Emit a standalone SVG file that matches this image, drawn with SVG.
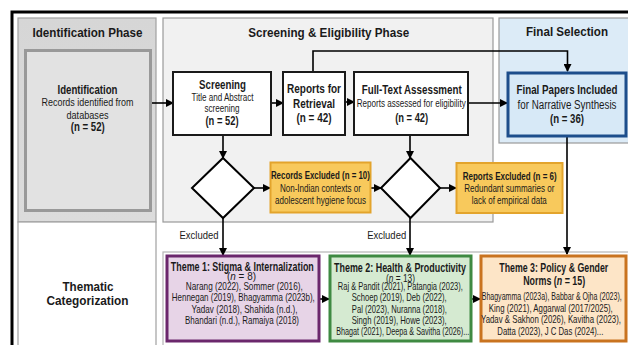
<svg xmlns="http://www.w3.org/2000/svg" width="628" height="345" viewBox="0 0 628 345">
<defs>
<marker id="ah" markerWidth="8" markerHeight="8" refX="7" refY="4" orient="auto" markerUnits="userSpaceOnUse">
<path d="M0,0 L8,4 L0,8 Z" fill="#000"/>
</marker>
<linearGradient id="gId" x1="0" y1="0" x2="0" y2="1">
<stop offset="0" stop-color="#d6d6d6"/><stop offset="1" stop-color="#dcdcdc"/>
</linearGradient>
</defs>
<style>
text{font-family:"Liberation Sans Narrow","Liberation Sans",Arial,sans-serif;fill:#1a1a1a;text-anchor:middle}
.ph{font-size:13.5px;font-weight:bold}
.t{font-size:12.5px;font-weight:bold}
.b{font-size:11px}
.s{font-size:10.5px}
.sb{font-size:10.5px;font-weight:bold}
.n{font-size:12px;font-weight:bold}
.tt{font-size:12px;font-weight:bold}
.c{font-size:10.5px}
.box{fill:#fff;stroke:#1a1a1a;stroke-width:2}
.exc{fill:#f8c95c;stroke:#e3a42c;stroke-width:2}
.dia{fill:#fff;stroke:#000;stroke-width:2}
.ln{fill:none;stroke:#000;stroke-width:1.6}
</style>

<!-- frame and panels -->
<rect x="12" y="12" width="630" height="345" fill="#fff" stroke="#000" stroke-width="3"/>
<g id="panel-identification">
<rect x="18" y="18" width="138" height="204" fill="url(#gId)" stroke="#a0a0a0" stroke-width="1.2"/>
<text class="ph" x="87.5" y="36.5" textLength="110" lengthAdjust="spacingAndGlyphs">Identification Phase</text>
</g>
<g id="panel-thematic">
<rect x="18" y="222" width="138" height="125" fill="#fff" stroke="#a0a0a0" stroke-width="1.2"/>
<text class="ph" x="88" y="290.5" textLength="51" lengthAdjust="spacingAndGlyphs">Thematic</text>
<text class="ph" x="87.5" y="305" textLength="82" lengthAdjust="spacingAndGlyphs">Categorization</text>
</g>
<g id="panel-screening">
<rect x="163" y="18" width="330" height="204" fill="#f1f1f1" stroke="#9a9a9a" stroke-width="1.2"/>
<text class="ph" x="328.7" y="36.5" textLength="161" lengthAdjust="spacingAndGlyphs">Screening &amp; Eligibility Phase</text>
</g>
<g id="panel-final">
<rect x="499" y="18" width="140" height="125" fill="#dcebf7" stroke="#9a9a9a" stroke-width="1.2"/>
<text class="ph" x="567" y="36" textLength="82" lengthAdjust="spacingAndGlyphs">Final Selection</text>
</g>
<g id="panel-themes">
<rect x="163" y="252" width="475" height="95" fill="#fff" stroke="#b5b5b5" stroke-width="1.2"/>
</g>

<!-- connectors -->
<g id="connectors">
<line class="ln" x1="151" y1="103" x2="173" y2="103" marker-end="url(#ah)"/>
<line class="ln" x1="271" y1="103" x2="283" y2="103" marker-end="url(#ah)"/>
<line class="ln" x1="345" y1="102" x2="354" y2="102" marker-end="url(#ah)"/>
<line class="ln" x1="468" y1="103" x2="507" y2="103" marker-end="url(#ah)"/>
<path class="ln" d="M313,72 V51 H567.5 V71" marker-end="url(#ah)"/>
<line class="ln" x1="223" y1="135" x2="223" y2="158" marker-end="url(#ah)"/>
<line class="ln" x1="254" y1="188" x2="270" y2="188" marker-end="url(#ah)"/>
<line class="ln" x1="371" y1="188" x2="381" y2="188" marker-end="url(#ah)"/>
<line class="ln" x1="410" y1="135" x2="410" y2="158" marker-end="url(#ah)"/>
<line class="ln" x1="440" y1="188" x2="456" y2="188" marker-end="url(#ah)"/>
<line class="ln" x1="223" y1="218" x2="223" y2="255" marker-end="url(#ah)"/>
<line class="ln" x1="410" y1="218" x2="410" y2="255" marker-end="url(#ah)"/>
<line class="ln" x1="567" y1="137" x2="567" y2="254" marker-end="url(#ah)"/>
<line class="ln" x1="320" y1="299" x2="329" y2="299" marker-end="url(#ah)"/>
<line class="ln" x1="472" y1="299" x2="480" y2="299" marker-end="url(#ah)"/>
<text class="b" x="199" y="238.5" textLength="39" lengthAdjust="spacingAndGlyphs">Excluded</text>
<text class="b" x="386.7" y="238.5" textLength="39" lengthAdjust="spacingAndGlyphs">Excluded</text>
</g>

<g id="identification">
<rect x="25.5" y="50.5" width="125" height="160" fill="#e2e2e2" stroke="#999" stroke-width="3"/>
<text class="t" x="87.5" y="93.5" textLength="60" lengthAdjust="spacingAndGlyphs">Identification</text>
<text class="b" x="87.5" y="106" textLength="92" lengthAdjust="spacingAndGlyphs">Records identified from</text>
<text class="b" x="87.5" y="118.5" textLength="42" lengthAdjust="spacingAndGlyphs">databases</text>
<text class="n" x="87.8" y="131" textLength="34" lengthAdjust="spacingAndGlyphs">(n = 52)</text>
</g>

<g id="screening">
<rect class="box" x="173" y="72" width="98" height="63"/>
<text class="t" x="222.5" y="89" textLength="47" lengthAdjust="spacingAndGlyphs">Screening</text>
<text class="s" x="222.5" y="101" textLength="62" lengthAdjust="spacingAndGlyphs">Title and Abstract</text>
<text class="s" x="222" y="112" textLength="35" lengthAdjust="spacingAndGlyphs">screening</text>
<text class="n" x="222" y="124.5" textLength="33" lengthAdjust="spacingAndGlyphs">(n = 52)</text>
</g>

<g id="retrieval">
<rect class="box" x="283" y="72" width="62" height="63"/>
<text class="t" x="314" y="93" textLength="54" lengthAdjust="spacingAndGlyphs">Reports for</text>
<text class="t" x="314" y="107.5" textLength="42" lengthAdjust="spacingAndGlyphs">Retrieval</text>
<text class="n" x="314" y="122" textLength="35" lengthAdjust="spacingAndGlyphs">(n = 42)</text>
</g>

<g id="fulltext">
<rect class="box" x="354" y="72" width="114" height="63"/>
<text class="t" x="411.7" y="94" textLength="100" lengthAdjust="spacingAndGlyphs">Full-Text Assessment</text>
<text class="s" x="411.2" y="107" textLength="109" lengthAdjust="spacingAndGlyphs">Reports assessed for eligibility</text>
<text class="n" x="411.7" y="122" textLength="33" lengthAdjust="spacingAndGlyphs">(n = 42)</text>
</g>

<g id="final">
<rect x="508" y="73" width="118" height="63" fill="#d7e9f7" stroke="#1d4e8c" stroke-width="3"/>
<text class="t" x="567" y="93.5" textLength="101" lengthAdjust="spacingAndGlyphs">Final Papers Included</text>
<text class="b" x="567" y="108.5" textLength="99" lengthAdjust="spacingAndGlyphs" style="font-size:12px">for Narrative Synthesis</text>
<text class="n" x="567" y="123" textLength="34" lengthAdjust="spacingAndGlyphs">(n = 36)</text>
</g>

<g id="decision1">
<polygon class="dia" points="223,158 254,188 223,218 192,188"/>
</g>
<g id="decision2">
<polygon class="dia" points="410.5,158 440,188 410.5,218 381,188"/>
</g>

<g id="records-excluded">
<rect class="exc" x="270.5" y="162.5" width="100" height="50"/>
<text class="sb" x="320.4" y="179" textLength="99" lengthAdjust="spacingAndGlyphs">Records Excluded (n = 10)</text>
<text class="s" x="320.4" y="192" textLength="81" lengthAdjust="spacingAndGlyphs">Non-Indian contexts or</text>
<text class="s" x="320.5" y="204" textLength="91" lengthAdjust="spacingAndGlyphs">adolescent hygiene focus</text>
</g>

<g id="reports-excluded">
<rect class="exc" x="456.5" y="163" width="106" height="50"/>
<text class="sb" x="509.7" y="179.5" textLength="94" lengthAdjust="spacingAndGlyphs">Reports Excluded (n = 6)</text>
<text class="s" x="509.3" y="192" textLength="90" lengthAdjust="spacingAndGlyphs">Redundant summaries or</text>
<text class="s" x="509.3" y="204" textLength="75" lengthAdjust="spacingAndGlyphs">lack of empirical data</text>
</g>

<g id="theme1">
<rect x="167" y="256" width="152" height="85" fill="#e7d4e7" stroke="#6b276c" stroke-width="3"/>
<text class="tt" x="242.3" y="270.5" textLength="143" lengthAdjust="spacingAndGlyphs">Theme 1: Stigma &amp; Internalization</text>
<text class="b" x="241.5" y="280" textLength="29" lengthAdjust="spacingAndGlyphs">(<tspan font-style="italic">n</tspan> = 8)</text>
<text class="c" x="244.3" y="289.5" textLength="117" lengthAdjust="spacingAndGlyphs">Narang (2022), Sommer (2016),</text>
<text class="c" x="243.3" y="301" textLength="143" lengthAdjust="spacingAndGlyphs">Hennegan (2019), Bhagyamma (2023b),</text>
<text class="c" x="244.5" y="312.5" textLength="106" lengthAdjust="spacingAndGlyphs">Yadav (2018), Shahida (n.d.),</text>
<text class="c" x="242" y="324" textLength="114" lengthAdjust="spacingAndGlyphs">Bhandari (n.d.), Ramaiya (2018)</text>
</g>

<g id="theme2">
<rect x="330" y="256" width="141" height="85" fill="#d5ead1" stroke="#3f8a42" stroke-width="3"/>
<text class="tt" x="400" y="271.5" textLength="132" lengthAdjust="spacingAndGlyphs">Theme 2: Health &amp; Productivity</text>
<text class="b" x="400.5" y="281.5" textLength="29" lengthAdjust="spacingAndGlyphs">(<tspan font-style="italic">n</tspan> = 13)</text>
<text class="c" x="400.3" y="290" textLength="125" lengthAdjust="spacingAndGlyphs">Raj &amp; Pandit (2021), Patangia (2023),</text>
<text class="c" x="399.2" y="301" textLength="95" lengthAdjust="spacingAndGlyphs">Schoep (2019), Deb (2022),</text>
<text class="c" x="399.3" y="312.5" textLength="95" lengthAdjust="spacingAndGlyphs">Pal (2023), Nuranna (2018),</text>
<text class="c" x="399.2" y="323.5" textLength="95" lengthAdjust="spacingAndGlyphs">Singh (2019), Howe (2023),</text>
<text class="c" x="402.7" y="335" textLength="133" lengthAdjust="spacingAndGlyphs">Bhagat (2021), Deepa &amp; Savitha (2026)...</text>
</g>

<g id="theme3">
<rect x="481" y="256" width="145" height="85" fill="#fde5c7" stroke="#c9731f" stroke-width="3"/>
<text class="t" x="553.8" y="271.5" textLength="109" lengthAdjust="spacingAndGlyphs">Theme 3: Policy &amp; Gender</text>
<text class="t" x="554.2" y="284.5" textLength="62" lengthAdjust="spacingAndGlyphs">Norms (<tspan font-style="italic">n</tspan> = 15)</text>
<text class="c" x="551.7" y="300" textLength="140" lengthAdjust="spacingAndGlyphs">Bhagyamma (2023a), Babbar &amp; Ojha (2023),</text>
<text class="c" x="550.8" y="311.7" textLength="124" lengthAdjust="spacingAndGlyphs">King (2021), Aggarwal (2017/2025),</text>
<text class="c" x="551" y="323.3" textLength="140" lengthAdjust="spacingAndGlyphs">Yadav &amp; Sakhon (2026), Kavitha (2023),</text>
<text class="c" x="550.3" y="335" textLength="106" lengthAdjust="spacingAndGlyphs">Datta (2023), J C Das (2024)...</text>
</g>
</svg>
